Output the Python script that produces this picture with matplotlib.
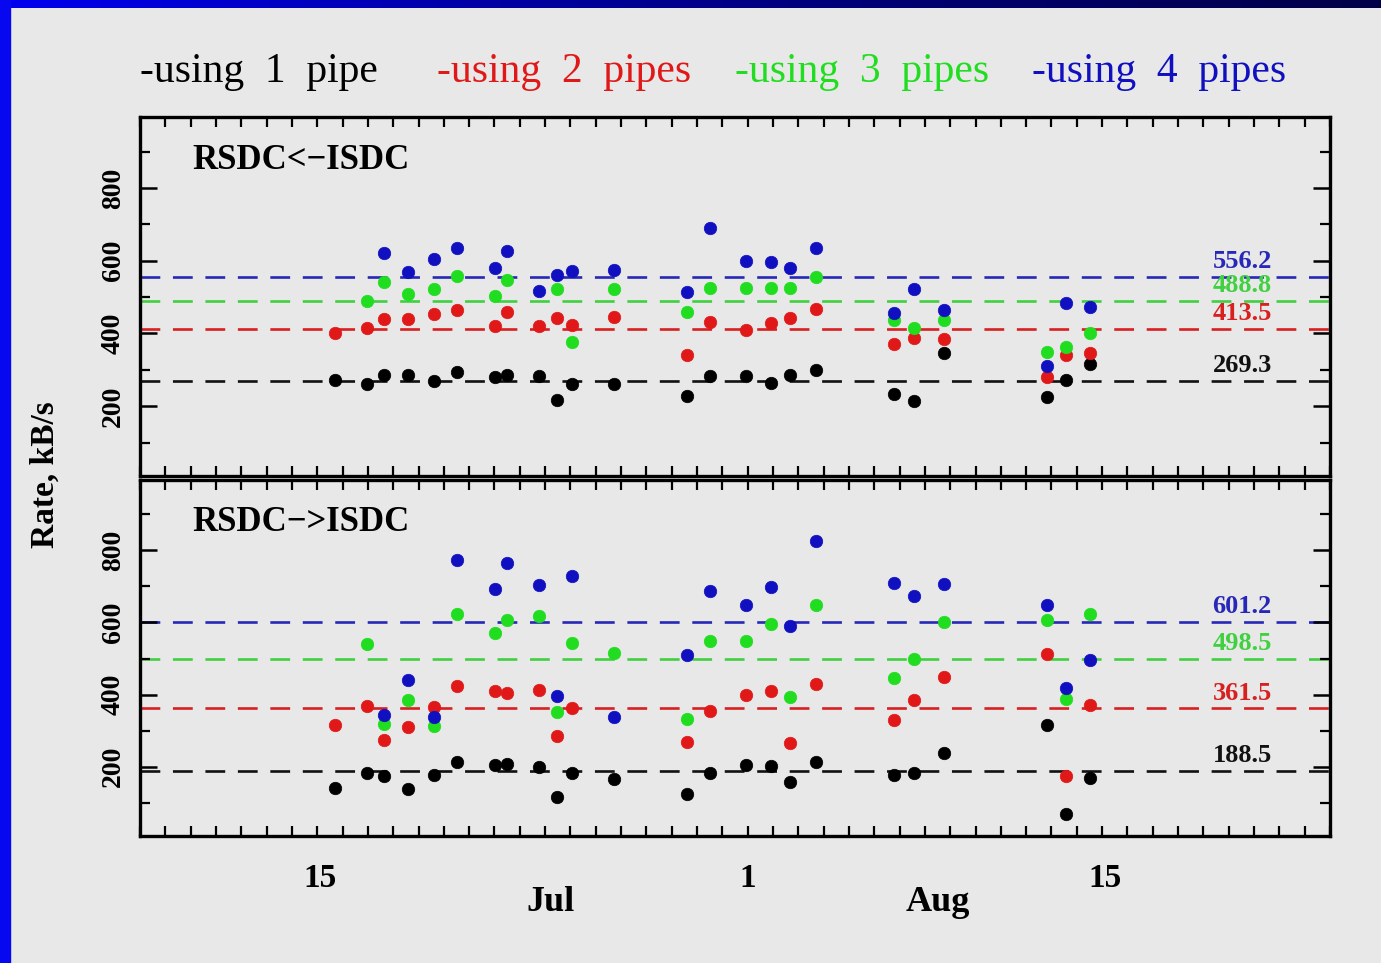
import numpy as np
import matplotlib.pyplot as plt
from matplotlib.ticker import MultipleLocator, FixedLocator
from matplotlib.transforms import blended_transform_factory
from matplotlib.colors import LinearSegmentedColormap

plt.rcParams['font.family'] = ['Liberation Serif', 'DejaVu Serif']

nan = np.nan

# day of July (Aug 1 = 32) for each measurement column
days = [15.72, 16.95, 17.62, 18.57, 19.60, 20.51, 22.03, 22.50, 23.74, 24.48, 25.06, 26.74,
        29.61, 30.53, 31.94, 32.91, 33.66, 34.70, 37.79, 38.58, 39.77, 43.82, 44.59, 45.53]

# RSDC<-ISDC rates, kB/s
up_1 = [273, 262, 287, 285, 270, 294, 281, 287, 283, 216, 261, 261,
        228, 283, 283, 264, 287, 299, 233, 215, 345, 225, 272, 315]
up_2 = [400, 414, 440, 440, 453, 464, 420, 458, 420, 442, 423, 444,
        342, 432, 409, 428, 442, 466, 370, 387, 386, 281, 340, 346]
up_3 = [nan, 489, 540, 508, 522, 558, 504, 547, nan, 521, 377, 521,
        458, 526, 526, 524, 524, 556, 436, 414, 437, 350, 364, 400]
up_4 = [nan, nan, 621, 568, 604, 634, 579, 627, 516, 561, 571, 573,
        515, 690, 600, 596, 579, 634, 455, 523, 465, 310, 483, 474]

# RSDC->ISDC rates, kB/s
dn_1 = [140, 183, 174, 138, 177, 212, 205, 209, 200, 117, 184, 166,
        125, 182, 205, 202, 159, 214, 177, 183, 237, 317, 69, 168]
dn_2 = [315, 368, 275, 310, 367, 423, 409, 404, 414, 286, 363, nan,
        269, 354, 398, 410, 266, 430, 329, 384, 448, 513, 175, 372]
dn_3 = [nan, 540, 318, 384, 312, 623, 572, 606, 618, 352, 542, 514,
        333, 549, 549, 597, 393, 648, 446, 499, 600, 606, 389, 623]
dn_4 = [nan, nan, 343, 441, 338, 772, 692, 766, 704, 395, 729, 338,
        510, 687, 649, 698, 589, 825, 710, 674, 708, 648, 418, 497]

up_means = [269.3, 413.5, 488.8, 556.2]
dn_means = [188.5, 361.5, 498.5, 601.2]

legend_labels = ['-using  1  pipe', '-using  2  pipes', '-using  3  pipes', '-using  4  pipes']
day_ticks = [15.1, 32.0, 46.1]
day_labels = ['15', '1', '15']
month_pos = [24.2, 39.5]
month_labels = ['Jul', 'Aug']

colors = ['#000000', '#e01818', '#20dd20', '#1010c0']
line_colors = ['#111111', '#d82020', '#40d040', '#2828b8']

bg = '#e8e8e8'
fig = plt.figure(figsize=(13.81, 9.63), dpi=100, facecolor=bg)

# slide border
fig.patches.append(plt.Rectangle((0, 0), 10 / 1381, 1, transform=fig.transFigure,
                                 color='#0808f0', zorder=0))
strip = fig.add_axes([0, 1 - 8 / 963, 1, 8 / 963])
grad = np.linspace(0, 1, 256)[None, :]
cm = LinearSegmentedColormap.from_list('slide', ['#0000f0', '#0000a8', '#000070', '#000048'])
strip.imshow(grad, aspect='auto', cmap=cm)
strip.set_axis_off()

ax1 = fig.add_axes([140 / 1381, 1 - 476 / 963, 1190 / 1381, 359 / 963])
ax2 = fig.add_axes([140 / 1381, 1 - 836 / 963, 1190 / 1381, 356 / 963])

panels = [(ax1, [up_1, up_2, up_3, up_4], up_means, 'RSDC<\u2212ISDC'),
          (ax2, [dn_1, dn_2, dn_3, dn_4], dn_means, 'RSDC\u2212>ISDC')]

for ax, series, means, title in panels:
    ax.set_facecolor('none')
    for m, lc in zip(means, line_colors):
        ax.axhline(m, color=lc, lw=1.9, dashes=(7.5, 4.8), zorder=1)
        ax.annotate(f'{m:.1f}', xy=(52.7, m), xytext=(0, 11), textcoords='offset points',
                    ha='right', va='center', fontsize=19, fontweight='bold', color=lc)
    for vals, c in zip(series, colors):
        ax.plot(days, vals, 'o', color=c, ms=9, mec=c, mew=0.5, zorder=3)
    ax.set_xlim(8, 55)
    ax.set_ylim(8, 995)
    ax.xaxis.set_major_locator(MultipleLocator(1))
    ax.set_xticklabels([])
    ax.yaxis.set_major_locator(FixedLocator([200, 400, 600, 800]))
    ax.yaxis.set_minor_locator(MultipleLocator(100))
    ax.set_yticklabels(['200', '400', '600', '800'], rotation=90, va='center',
                       fontsize=20, fontweight='bold')
    ax.tick_params(axis='x', which='major', direction='in', top=True, bottom=True,
                   length=7, width=1.6)
    ax.tick_params(axis='y', which='major', direction='in', left=True, right=True,
                   length=12, width=1.8, pad=10)
    ax.tick_params(axis='y', which='minor', direction='in', left=True, right=True,
                   length=7, width=1.6)
    for s in ax.spines.values():
        s.set_linewidth(2.4)
    ax.text(0.044, 0.88, title, transform=ax.transAxes, fontsize=25, fontweight='bold',
            ha='left', va='center')

tr = blended_transform_factory(ax2.transData, fig.transFigure)
for p, lab in zip(day_ticks, day_labels):
    ax2.text(p, 1 - 878 / 963, lab, transform=tr, ha='center', va='center',
             fontsize=24, fontweight='bold')
for p, lab in zip(month_pos, month_labels):
    ax2.text(p, 1 - 902 / 963, lab, transform=tr, ha='center', va='center',
             fontsize=26, fontweight='bold')

fig.text(45 / 1381, 1 - 475 / 963, 'Rate, kB/s', rotation=90, ha='center', va='center',
         fontsize=24, fontweight='bold')

leg_x = [140, 437, 735, 1032]
for xp, lab, c in zip(leg_x, legend_labels, colors):
    fig.text(xp / 1381, 1 - 72 / 963, lab, color=c, ha='left', va='center', fontsize=30)

fig.savefig('out.png', dpi=100, facecolor=bg)
